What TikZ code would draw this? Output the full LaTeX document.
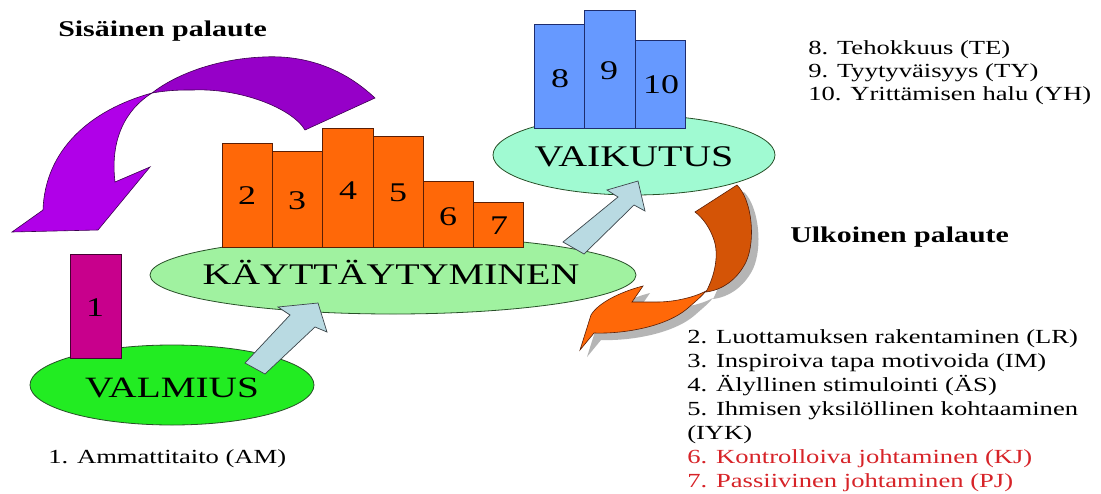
\documentclass[tikz,border=0pt]{standalone}
\usepackage{fontspec}
\setmainfont{Liberation Serif}
\usetikzlibrary{shapes.geometric}
\definecolor{orangeA}{RGB}{255,104,8}
\definecolor{orangeD}{RGB}{212,84,6}
\definecolor{oborder}{RGB}{90,30,5}
\definecolor{bluebar}{RGB}{102,153,255}
\definecolor{blueborder}{RGB}{30,45,110}
\definecolor{magbar}{RGB}{200,0,140}
\definecolor{magborder}{RGB}{70,0,50}
\definecolor{greenA}{RGB}{34,236,34}
\definecolor{greenB}{RGB}{160,242,160}
\definecolor{mint}{RGB}{160,250,210}
\definecolor{ellborder}{RGB}{40,80,40}
\definecolor{arrowblue}{RGB}{185,218,226}
\definecolor{arrowborder}{RGB}{60,70,75}
\definecolor{purpleD}{RGB}{150,0,200}
\definecolor{purpleL}{RGB}{176,0,232}
\definecolor{purpleborder}{RGB}{60,0,80}
\definecolor{redtxt}{RGB}{215,35,40}
\definecolor{shadowgray}{RGB}{150,150,150}
\tikzset{
  ell/.style={ellipse, draw=ellborder, line width=0.8pt, inner sep=0pt},
  barbox/.style={rectangle, draw, line width=0.8pt, inner sep=0pt, anchor=south west},
  digit/.style={font=\fontsize{27}{30}\selectfont, inner sep=0pt, xscale=1.33},
  bigtxt/.style={font=\fontsize{30}{34}\selectfont, inner sep=0pt, anchor=base, xscale=1.33},
  lst/.style={font=\fontsize{20}{23}\selectfont, inner sep=0pt, anchor=base west, xscale=1.33},
  headtxt/.style={font=\bfseries\fontsize{22.5}{26}\selectfont, inner sep=0pt, anchor=base west, xscale=1.33},
  barrow/.style={fill=arrowblue, draw=arrowborder, line width=0.7pt, line join=miter},
  purp/.style={draw=purpleborder, line width=0.6pt},
  orng/.style={draw=oborder, line width=0.6pt},
}
\begin{document}
\begin{tikzpicture}[x=1pt,y=-1pt]
\useasboundingbox (0,0) rectangle (1101,493);
\fill[white] (0,0) rectangle (1101,493);

% --- internal feedback arrow (purple)
\path[purp, fill=purpleD] (375,98) .. controls (340,65) and (300,55) .. (263,57)
  .. controls (215,59) and (175,75) .. (152,93)
  .. controls (170,90) and (180,90) .. (193,90)
  .. controls (240,88) and (292,108) .. (305,130) -- cycle;
\path[purp, fill=purpleL] (152,93) .. controls (90,110) and (45,150) .. (43,210)
  -- (12,232) -- (98,230) -- (150,167) -- (115,182)
  .. controls (110,140) and (125,110) .. (152,93) -- cycle;

% --- external feedback arrow (orange) with shadow
\begin{scope}[shift={(7,7)}]
\fill[shadowgray, opacity=0.7] (695,212) -- (737,185) .. controls (752,200) and (756,240) .. (746,262)
  .. controls (737,280) and (722,290) .. (706,292)
  .. controls (715,275) and (719,255) .. (714,240)
  .. controls (710,228) and (703,218) .. (695,212) -- cycle;
\fill[shadowgray, opacity=0.7] (706,291) .. controls (695,297) and (675,302) .. (657,302) -- (632,302) -- (643,286)
  .. controls (620,292) and (598,303) .. (591,315) -- (580,350) -- (594,333)
  .. controls (620,334) and (665,328) .. (688,308)
  .. controls (696,301) and (702,296) .. (706,291) -- cycle;
\end{scope}
\path[orng, fill=orangeD] (695,212) -- (737,185) .. controls (752,200) and (756,240) .. (746,262)
  .. controls (737,280) and (722,290) .. (706,292)
  .. controls (715,275) and (719,255) .. (714,240)
  .. controls (710,228) and (703,218) .. (695,212) -- cycle;
\path[orng, fill=orangeA] (706,291) .. controls (695,297) and (675,302) .. (657,302) -- (632,302) -- (643,286)
  .. controls (620,292) and (598,303) .. (591,315) -- (580,350) -- (594,333)
  .. controls (620,334) and (665,328) .. (688,308)
  .. controls (696,301) and (702,296) .. (706,291) -- cycle;

% --- ellipses
\node[ell, fill=greenA, minimum width=284pt, minimum height=80pt] (valmius) at (172,385) {};
\node[ell, fill=greenB, minimum width=486pt, minimum height=78pt] (kaytt) at (393,275) {};
\node[ell, fill=mint, minimum width=282pt, minimum height=80pt] (vaikutus) at (634,155) {};

% --- bars
\node[barbox, fill=magbar, draw=magborder, minimum width=51pt, minimum height=104pt] (b1) at (70,359) {};
\node[barbox, fill=orangeA, draw=oborder, minimum width=50pt, minimum height=104pt] (b2) at (222,248) {};
\node[barbox, fill=orangeA, draw=oborder, minimum width=50pt, minimum height=96pt] (b3) at (272,248) {};
\node[barbox, fill=orangeA, draw=oborder, minimum width=51pt, minimum height=119pt] (b4) at (322,248) {};
\node[barbox, fill=orangeA, draw=oborder, minimum width=50pt, minimum height=111pt] (b5) at (373,248) {};
\node[barbox, fill=orangeA, draw=oborder, minimum width=50pt, minimum height=66pt] (b6) at (423,248) {};
\node[barbox, fill=orangeA, draw=oborder, minimum width=50pt, minimum height=45pt] (b7) at (473,248) {};
\node[barbox, fill=bluebar, draw=blueborder, minimum width=50pt, minimum height=104pt] (b8) at (534,129) {};
\node[barbox, fill=bluebar, draw=blueborder, minimum width=51pt, minimum height=118pt] (b9) at (584,129) {};
\node[barbox, fill=bluebar, draw=blueborder, minimum width=50pt, minimum height=88pt] (b10) at (635,129) {};

\node[digit] (d1) at (95,308) {1};
\node[digit] (d2) at (247,196) {2};
\node[digit] (d3) at (297,201) {3};
\node[digit] (d4) at (348,191) {4};
\node[digit] (d5) at (398,193) {5};
\node[digit] (d6) at (448,217) {6};
\node[digit] (d7) at (499,226) {7};
\node[digit] (d8) at (560,79) {8};
\node[digit] (d9) at (609,71) {9};
\node[digit] (d10) at (661,85) {10};

% --- block arrows between the ellipses
\coordinate (a1t) at (318,303);
\path[barrow] (245,363) -- (290,315) -- (278,307) -- (a1t) -- (327,332) -- (315,327) -- (265,374) -- cycle;
\coordinate (a2t) at (638,181);
\path[barrow] (563,242) -- (618,197) -- (607,190) -- (a2t) -- (645,211) -- (634,205) -- (584,254) -- cycle;

% --- ellipse texts
\node[bigtxt, font=\fontsize{29.5}{34}\selectfont] (tvalmius) at (172,397) {VALMIUS};
\node[bigtxt] (tkaytt) at (391,284) {KÄYTTÄYTYMINEN};
\node[bigtxt] (tvaik) at (634,166) {VAIKUTUS};

% --- headings
\node[headtxt] (hsis) at (58,36) {Sisäinen palaute};
\node[headtxt] (hulk) at (790,242) {Ulkoinen palaute};

% --- lists
\node[lst] (l8) at (808,54) {8. Tehokkuus (TE)};
\node[lst] (l9) at (808,77) {9. Tyytyväisyys (TY)};
\node[lst] (l10) at (808,100) {10. Yrittämisen halu (YH)};

\node[lst] (l2) at (687,343) {2. Luottamuksen rakentaminen (LR)};
\node[lst] (l3) at (687,367) {3. Inspiroiva tapa motivoida (IM)};
\node[lst] (l4) at (687,391) {4. Älyllinen stimulointi (ÄS)};
\node[lst] (l5) at (687,415) {5. Ihmisen yksilöllinen kohtaaminen};
\node[lst] (l5b) at (687,439) {(IYK)};
\node[lst, text=redtxt] (l6) at (687,463) {6. Kontrolloiva johtaminen (KJ)};
\node[lst, text=redtxt] (l7) at (687,487) {7. Passiivinen johtaminen (PJ)};

\node[lst] (l1) at (48,463) {1. Ammattitaito (AM)};
\end{tikzpicture}
\end{document}
